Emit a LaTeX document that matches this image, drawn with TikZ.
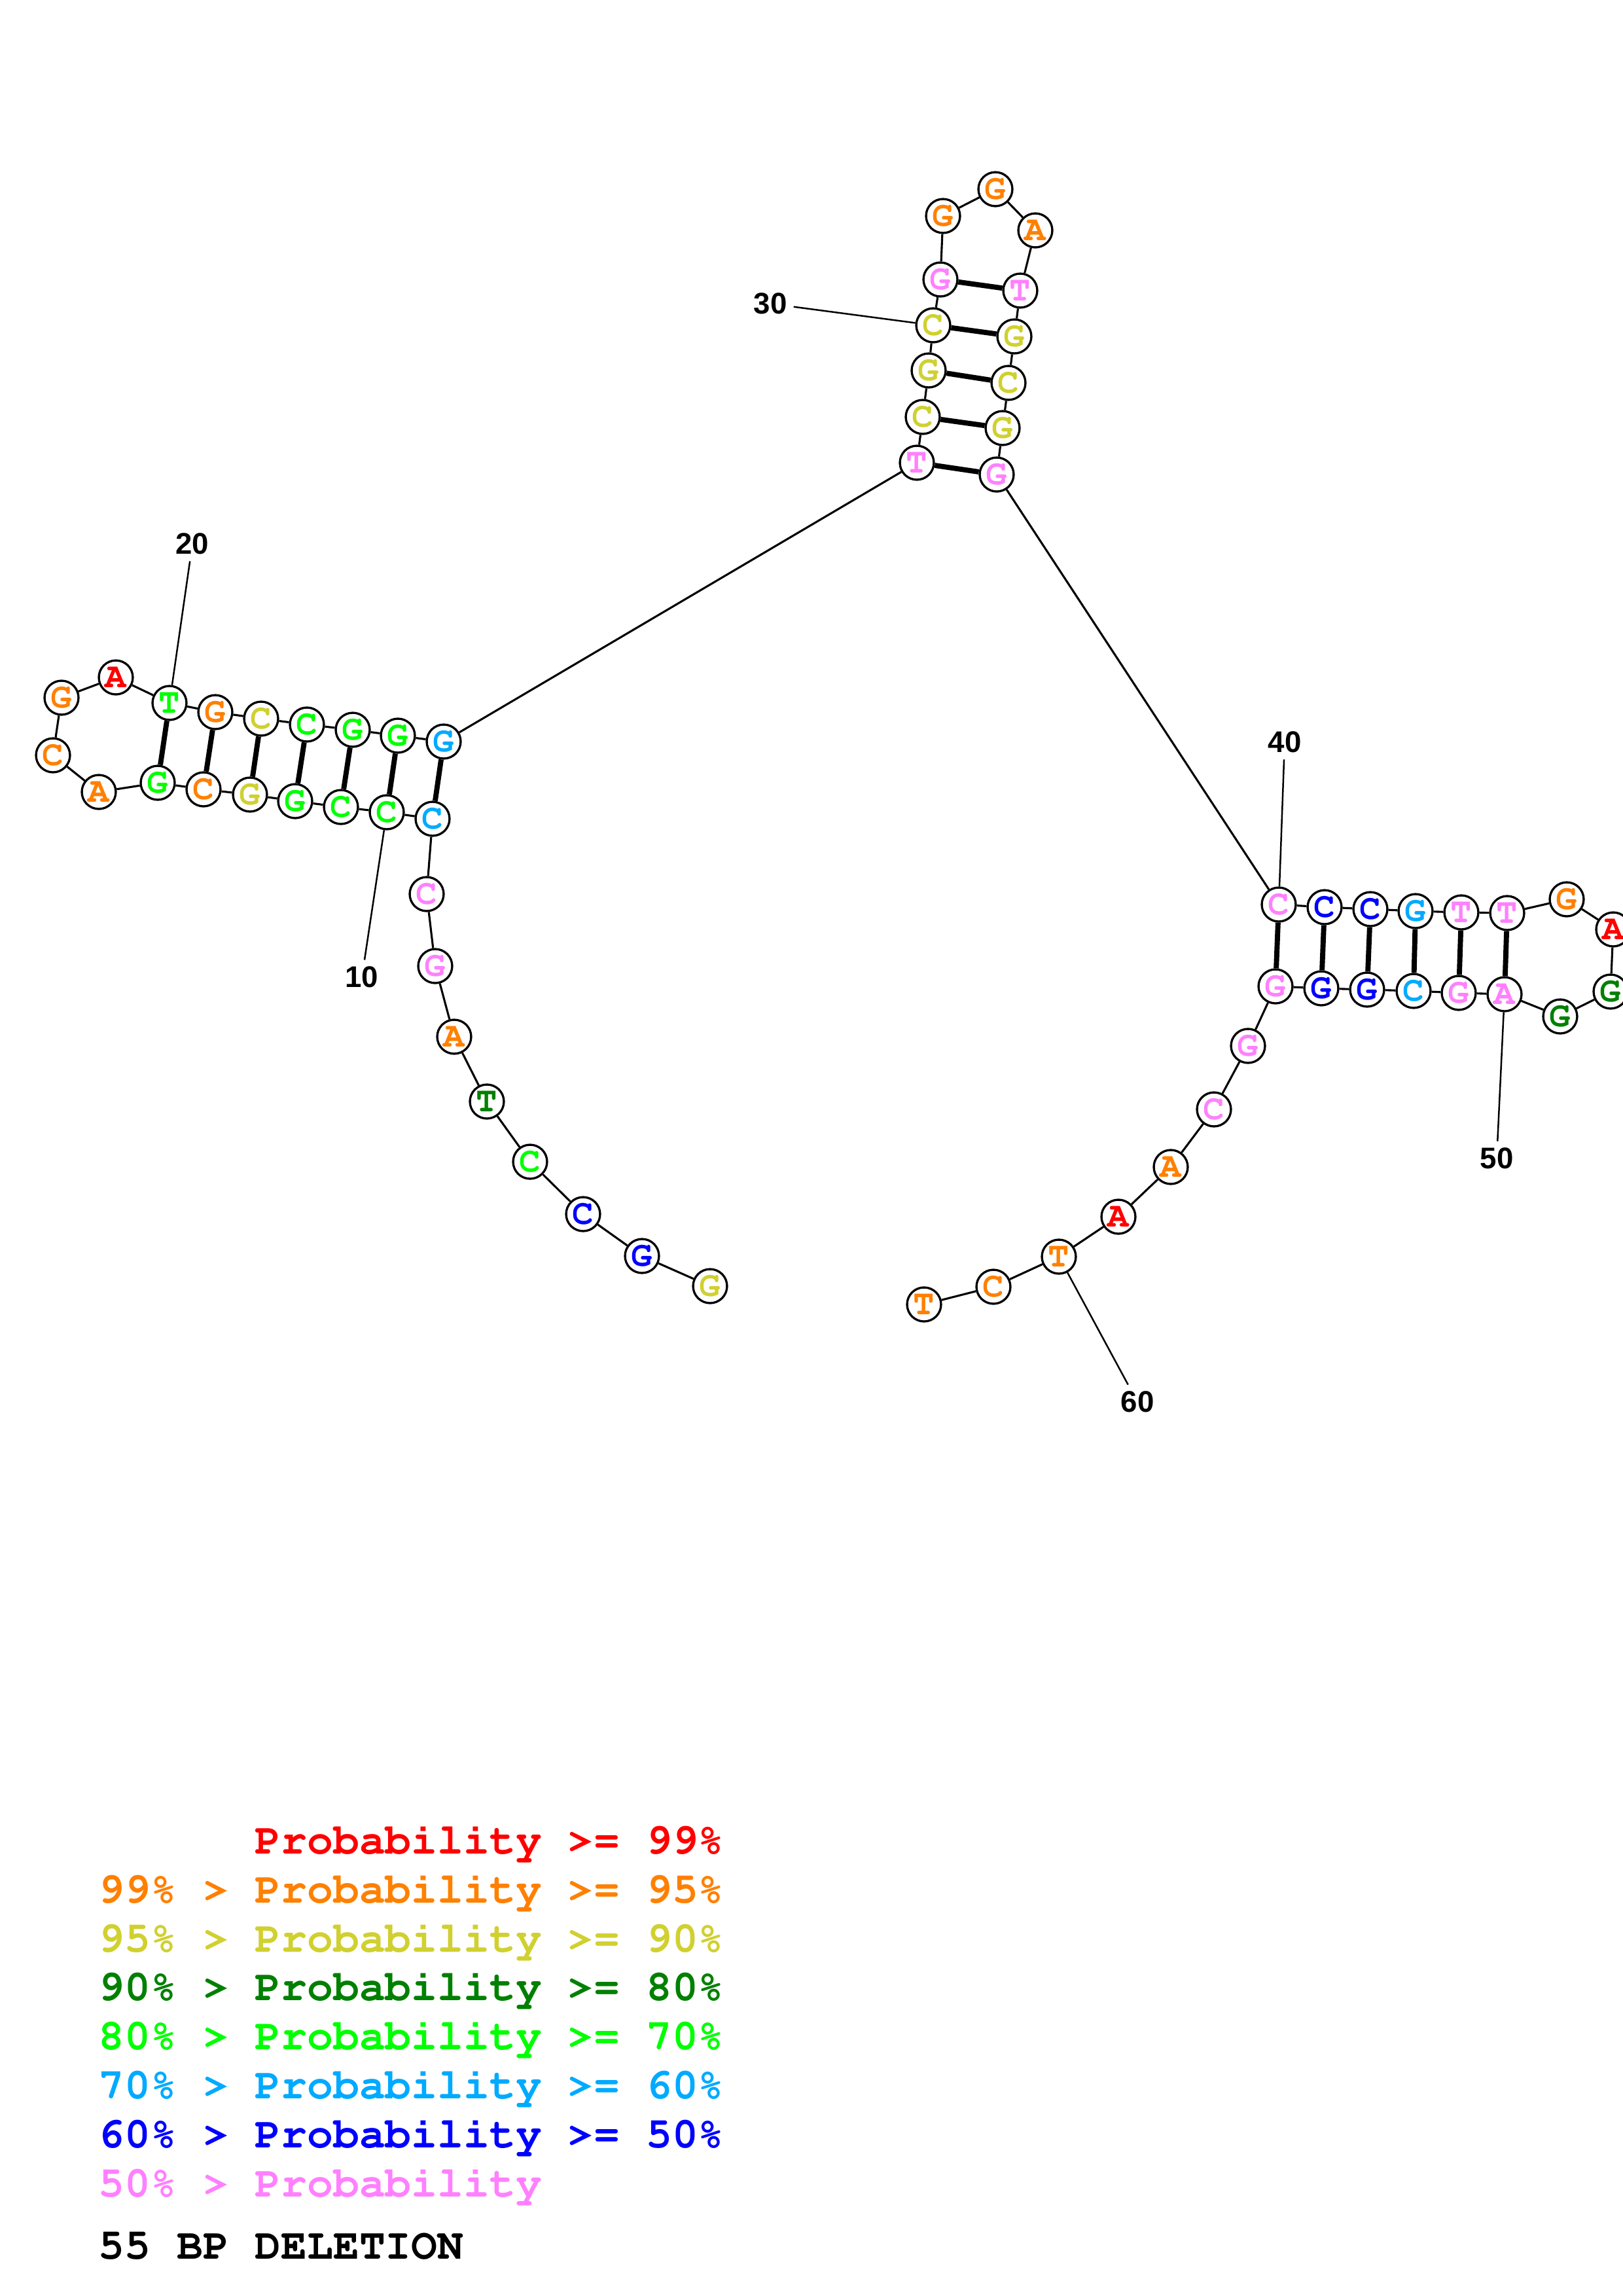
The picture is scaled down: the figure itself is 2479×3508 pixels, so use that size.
\documentclass[tikz,border=0pt]{standalone}
\usepackage[T1]{fontenc}
\usepackage{fontspec}
\setsansfont{Liberation Sans}
\usepackage{tikz}
\usepackage{xcolor}
\usetikzlibrary{positioning}

\newcommand\courbold{\fontencoding{T1}\fontfamily{pcr}\fontseries{b}\selectfont}

\definecolor{pRed}{RGB}{255,0,0}
\definecolor{pOrange}{RGB}{255,128,0}
\definecolor{pOlive}{RGB}{208,208,48}
\definecolor{pDkGreen}{RGB}{0,128,0}
\definecolor{pGreen}{RGB}{0,255,0}
\definecolor{pSky}{RGB}{0,170,255}
\definecolor{pBlue}{RGB}{0,0,255}
\definecolor{pPink}{RGB}{255,128,255}

\begin{document}
\begin{tikzpicture}[x=0.08471mm, y=-0.08471mm,
  base/.style={circle, draw, line width=0.8pt, fill=white, minimum size=4.4mm, inner sep=0pt,
    font=\courbold\fontsize{13}{13}\selectfont, text=#1},
  backbone/.style={line width=0.75pt},
  bond/.style={line width=1.9pt},
  numlab/.style={font=\sffamily\bfseries\fontsize{11}{11}\selectfont, inner sep=0.8mm},
  legend/.style={anchor=base west, inner sep=0pt,
    font=\courbold\fontsize{16}{16}\selectfont, text=#1}]
  \useasboundingbox (0,0) rectangle (2479,3508);

  % 5' tail
  \node[base=pOlive]   (n1)  at (1085,1965) {G};
  \node[base=pBlue]    (n2)  at (981,1919)  {G};
  \node[base=pBlue]    (n3)  at (891,1855)  {C};
  \node[base=pGreen]   (n4)  at (810,1775)  {C};
  \node[base=pDkGreen] (n5)  at (744,1683)  {T};
  \node[base=pOrange]  (n6)  at (694,1584)  {A};
  \node[base=pPink]    (n7)  at (665,1476)  {G};
  \node[base=pPink]    (n8)  at (652,1366)  {C};

  % left hairpin
  \node[base=pSky]     (n9)  at (661,1251)  {C};
  \node[base=pGreen]   (n10) at (591,1241)  {C};
  \node[base=pGreen]   (n11) at (521,1233)  {C};
  \node[base=pGreen]   (n12) at (451,1224)  {G};
  \node[base=pOlive]   (n13) at (382,1214)  {G};
  \node[base=pOrange]  (n14) at (311,1206)  {C};
  \node[base=pGreen]   (n15) at (241,1196)  {G};
  \node[base=pOrange]  (n16) at (151,1210)  {A};
  \node[base=pOrange]  (n17) at (81,1154)   {C};
  \node[base=pOrange]  (n18) at (94,1066)   {G};
  \node[base=pRed]     (n19) at (177,1035)  {A};
  \node[base=pGreen]   (n20) at (259,1074)  {T};
  \node[base=pOrange]  (n21) at (329,1088)  {G};
  \node[base=pOlive]   (n22) at (399,1098)  {C};
  \node[base=pGreen]   (n23) at (469,1107)  {C};
  \node[base=pGreen]   (n24) at (539,1115)  {G};
  \node[base=pGreen]   (n25) at (608,1124)  {G};
  \node[base=pSky]     (n26) at (678,1133)  {G};

  % top hairpin
  \node[base=pPink]    (n27) at (1401,707)  {T};
  \node[base=pOlive]   (n28) at (1410,637)  {C};
  \node[base=pOlive]   (n29) at (1419,566)  {G};
  \node[base=pOlive]   (n30) at (1426,497)  {C};
  \node[base=pPink]    (n31) at (1437,427)  {G};
  \node[base=pOrange]  (n32) at (1441,330)  {G};
  \node[base=pOrange]  (n33) at (1521,289)  {G};
  \node[base=pOrange]  (n34) at (1582,352)  {A};
  \node[base=pPink]    (n35) at (1559,444)  {T};
  \node[base=pOlive]   (n36) at (1550,514)  {G};
  \node[base=pOlive]   (n37) at (1541,585)  {C};
  \node[base=pOlive]   (n38) at (1532,654)  {G};
  \node[base=pPink]    (n39) at (1523,725)  {G};

  % right hairpin
  \node[base=pPink]    (n40) at (1954,1382) {C};
  \node[base=pBlue]    (n41) at (2024,1386) {C};
  \node[base=pBlue]    (n42) at (2094,1389) {C};
  \node[base=pSky]     (n43) at (2163,1392) {G};
  \node[base=pPink]    (n44) at (2233,1394) {T};
  \node[base=pPink]    (n45) at (2303,1395) {T};
  \node[base=pOrange]  (n46) at (2394,1374) {G};
  \node[base=pRed]     (n47) at (2465,1420) {A};
  \node[base=pDkGreen] (n48) at (2461,1515) {G};
  \node[base=pDkGreen] (n49) at (2384,1553) {G};
  \node[base=pPink]    (n50) at (2299,1519) {A};
  \node[base=pPink]    (n51) at (2229,1517) {G};
  \node[base=pSky]     (n52) at (2160,1514) {C};
  \node[base=pBlue]    (n53) at (2089,1512) {G};
  \node[base=pBlue]    (n54) at (2019,1510) {G};
  \node[base=pPink]    (n55) at (1949,1507) {G};

  % 3' tail
  \node[base=pPink]    (n56) at (1907,1598) {G};
  \node[base=pPink]    (n57) at (1855,1695) {C};
  \node[base=pOrange]  (n58) at (1789,1783) {A};
  \node[base=pRed]     (n59) at (1709,1859) {A};
  \node[base=pOrange]  (n60) at (1618,1920) {T};
  \node[base=pOrange]  (n61) at (1518,1966) {C};
  \node[base=pOrange]  (n62) at (1412,1993) {T};

  % backbone
  \foreach \i [remember=\i as \j (initially 1)] in {2,...,62}
    \draw[backbone] (n\j) -- (n\i);

  % base pairs
  \foreach \a/\b in {9/26,10/25,11/24,12/23,13/22,14/21,15/20,
                     27/39,28/38,29/37,30/36,31/35,
                     40/55,41/54,42/53,43/52,44/51,45/50}
    \draw[bond] (n\a) -- (n\b);

  % position numbers
  \node[numlab] (lab10) at (553,1493) {10};
  \node[numlab] (lab20) at (294,831)  {20};
  \node[numlab] (lab30) at (1177,464) {30};
  \node[numlab] (lab40) at (1963,1134) {40};
  \node[numlab] (lab50) at (2287,1770) {50};
  \node[numlab] (lab60) at (1738,2142) {60};
  \foreach \k in {10,20,30,40,50,60}
    \draw[line width=0.6pt] (lab\k) -- (n\k);

  % legend
  \node[legend=pRed]     (leg1) at (150,2832) {\phantom{99\% > }Probability >= 99\%};
  \node[legend=pOrange]  (leg2) at (150,2907) {99\% > Probability >= 95\%};
  \node[legend=pOlive]   (leg3) at (150,2982) {95\% > Probability >= 90\%};
  \node[legend=pDkGreen] (leg4) at (150,3056) {90\% > Probability >= 80\%};
  \node[legend=pGreen]   (leg5) at (150,3131) {80\% > Probability >= 70\%};
  \node[legend=pSky]     (leg6) at (150,3206) {70\% > Probability >= 60\%};
  \node[legend=pBlue]    (leg7) at (150,3281) {60\% > Probability >= 50\%};
  \node[legend=pPink]    (leg8) at (150,3356) {50\% > Probability};
  \node[legend=black]    (title) at (150,3451) {55 BP DELETION};
\end{tikzpicture}
\end{document}
